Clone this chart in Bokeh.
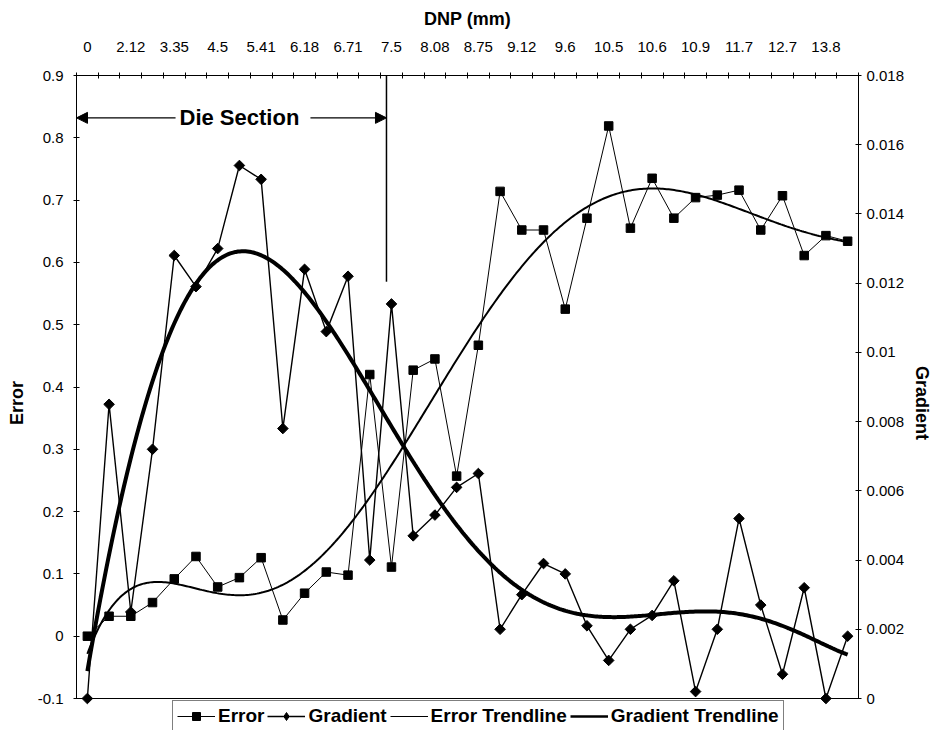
import numpy as np
from bokeh.plotting import figure
from bokeh.models import (Range1d, LinearAxis, FixedTicker, Legend, LegendItem,
                          Arrow, NormalHead, Label, Span)
from bokeh.embed import file_html
from bokeh.resources import INLINE

# DNP labels shown on every second measurement position
dnp_labels = ["0", "2.12", "3.35", "4.5", "5.41", "6.18", "6.71", "7.5", "8.08",
              "8.75", "9.12", "9.6", "10.5", "10.6", "10.9", "11.7", "12.7", "13.8"]

error = [0.000, 0.032, 0.032, 0.054, 0.092, 0.128, 0.079, 0.094, 0.126, 0.026,
         0.069, 0.103, 0.098, 0.420, 0.111, 0.427, 0.445, 0.257, 0.467, 0.714,
         0.652, 0.652, 0.525, 0.671, 0.819, 0.655, 0.735, 0.671, 0.704, 0.708,
         0.716, 0.652, 0.707, 0.611, 0.643, 0.634]

gradient = [0.0000, 0.0085, 0.0025, 0.0072, 0.0128, 0.0119, 0.0130, 0.0154, 0.0150,
            0.0078, 0.0124, 0.0106, 0.0122, 0.0040, 0.0114, 0.0047, 0.0053, 0.0061,
            0.0065, 0.0020, 0.0030, 0.0039, 0.0036, 0.0021, 0.0011, 0.0020, 0.0024,
            0.0034, 0.0002, 0.0020, 0.0052, 0.0027, 0.0007, 0.0032, 0.0000, 0.0018]

error_ticks = [round(-0.1 + 0.1 * k, 1) for k in range(11)]
grad_ticks = [round(0.002 * k, 3) for k in range(10)]
err_lo, err_hi = -0.1, 0.9
grad_lo, grad_hi = 0.0, 0.018

FONT = "Liberation Sans"
n = len(error)
idx = np.arange(n)

# layout in pixels: the plotting frame runs to the page bottom so that the
# legend (drawn inside it) can sit below the chart's bottom edge
W, H = 935, 730
TOP, LEFT, RIGHT = 75, 76, 77
CHART_H = 623                      # pixel height of the -0.1 .. 0.9 span
extra = (H - TOP - CHART_H) / CHART_H
y_lo = err_lo - extra * (err_hi - err_lo)
g_lo = grad_lo - extra * (grad_hi - grad_lo)

p = figure(width=W, height=H, output_backend="svg", toolbar_location=None,
           x_range=Range1d(-0.5, n - 0.5), y_range=Range1d(y_lo, err_hi),
           x_axis_location="above", y_axis_location="left",
           min_border_left=LEFT, min_border_right=RIGHT, min_border_top=TOP,
           min_border_bottom=0)
p.extra_y_ranges = {"grad": Range1d(g_lo, grad_hi)}
p.grid.visible = False
p.outline_line_color = None
p.background_fill_color = "white"
p.border_fill_color = "white"

def style_axis(ax):
    ax.axis_line_color = "black"
    ax.axis_line_width = 1
    ax.major_tick_line_color = "black"
    ax.minor_tick_line_color = "black"
    ax.major_label_text_font = FONT
    ax.major_label_text_font_size = "15px"
    ax.major_label_text_color = "black"
    ax.axis_label_text_font = FONT
    ax.axis_label_text_font_style = "bold"
    ax.axis_label_text_font_size = "18px"
    ax.axis_label_text_color = "black"

# top category axis
xa = p.xaxis[0]
xa.ticker = FixedTicker(ticks=list(range(0, n, 2)),
                        minor_ticks=[i - 0.5 for i in range(n + 1)])
xa.major_label_overrides = {2 * i: lab for i, lab in enumerate(dnp_labels)}
xa.axis_label = "DNP (mm)"
style_axis(xa)
xa.major_tick_in = 0
xa.major_tick_out = 0
xa.minor_tick_in = 3
xa.minor_tick_out = 3
xa.major_label_standoff = 21
xa.axis_label_standoff = 10

# left error axis
ya = p.yaxis[0]
ya.ticker = FixedTicker(ticks=error_ticks, minor_ticks=[])
ya.major_label_overrides = {v: f"{v:g}" for v in error_ticks}
ya.bounds = (err_lo, err_hi)
ya.axis_label = "Error"
style_axis(ya)
ya.major_tick_in = 3
ya.major_tick_out = 3
ya.major_label_standoff = 10
ya.axis_label_standoff = 8

# right gradient axis
ga = LinearAxis(y_range_name="grad", axis_label="Gradient",
                ticker=FixedTicker(ticks=grad_ticks, minor_ticks=[]),
                bounds=(grad_lo, grad_hi))
ga.major_label_overrides = {v: f"{v:g}" for v in grad_ticks}
style_axis(ga)
ga.major_tick_in = 3
ga.major_tick_out = 3
ga.major_label_standoff = 5
ga.axis_label_standoff = 5
p.add_layout(ga, "right")

# bottom edge of the chart area
p.add_layout(Span(location=err_lo, dimension="width", line_color="black", line_width=1))

# data series
er_line = p.line(idx, error, line_color="black", line_width=1)
er_pts = p.scatter(idx, error, marker="square", size=8.5,
                   fill_color="black", line_color="black")
gr_line = p.line(idx, gradient, y_range_name="grad", line_color="black", line_width=1.4)
p.scatter(idx, gradient, y_range_name="grad", marker="square",
          angle=np.pi / 4, size=7.5, fill_color="black", line_color="black")

# polynomial trendlines (6th order, as a spreadsheet trendline)
xs = np.linspace(0, n - 1, 400)
efit = np.polynomial.Polynomial.fit(idx + 1, error, 6)
gfit = np.polynomial.Polynomial.fit(idx + 1, gradient, 6)
et = p.line(xs, efit(xs + 1), line_color="black", line_width=2)
gt = p.line(xs, gfit(xs + 1), y_range_name="grad", line_color="black", line_width=4)

# legend-only key glyphs (no data, draw nothing in the chart)
k_gs = p.scatter([np.nan], [np.nan], marker="diamond", size=13,
                 fill_color="black", line_color="black")
k_et = p.line([np.nan], [np.nan], line_color="black", line_width=1.2)
k_gt = p.line([np.nan], [np.nan], line_color="black", line_width=2.5)

# Die Section annotation
arrow_y = 0.832
die_end = 13.77
p.segment(x0=[die_end], y0=[err_hi], x1=[die_end], y1=[0.569],
          line_color="black", line_width=1.5)
p.add_layout(Arrow(end=NormalHead(size=11, fill_color="black", line_color="black"),
                   x_start=4.06, y_start=arrow_y, x_end=-0.5, y_end=arrow_y,
                   line_color="black", line_width=1.2))
p.add_layout(Arrow(end=NormalHead(size=11, fill_color="black", line_color="black"),
                   x_start=10.27, y_start=arrow_y, x_end=die_end, y_end=arrow_y,
                   line_color="black", line_width=1.2))
p.add_layout(Label(x=7.0, y=arrow_y, text="Die Section", text_align="center",
                   text_baseline="middle", text_font=FONT, text_font_size="22px",
                   text_font_style="bold", text_color="black"))

legend = Legend(items=[
    LegendItem(label="Error", renderers=[er_line, er_pts]),
    LegendItem(label="Gradient", renderers=[gr_line, k_gs]),
    LegendItem(label="Error Trendline", renderers=[k_et]),
    LegendItem(label="Gradient Trendline", renderers=[k_gt]),
], orientation="horizontal", location=(96, -2), border_line_color="black",
    border_line_width=1, label_text_font=FONT, label_text_font_style="bold",
    label_text_font_size="19px", label_text_color="black",
    glyph_width=38, glyph_height=20, label_height=20, label_standoff=3,
    spacing=3, padding=4, margin=0, background_fill_color="white",
    background_fill_alpha=1)
p.add_layout(legend)

open("out.html", "w").write(file_html(p, INLINE))
